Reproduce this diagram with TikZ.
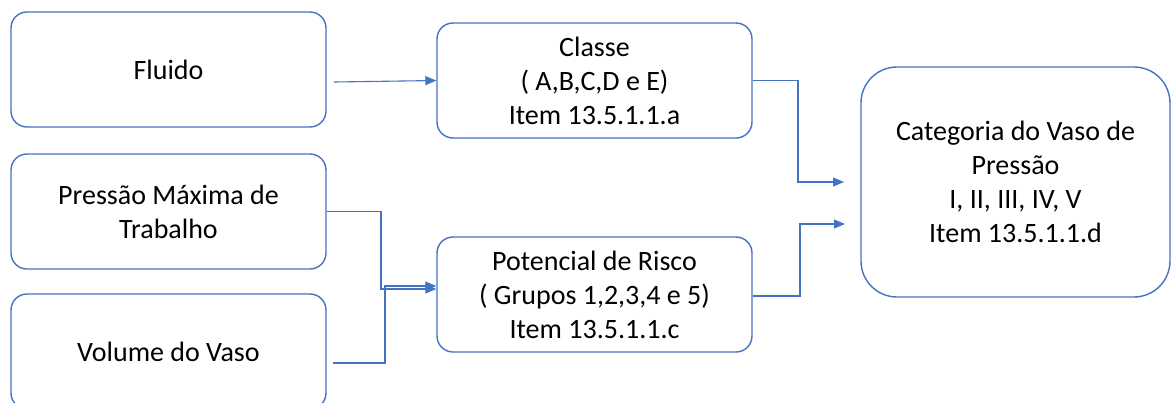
\documentclass[tikz,border=0pt]{standalone}
\usepackage{fontspec}
\setmainfont{Carlito}
\usetikzlibrary{arrows.meta}
\definecolor{lineblue}{HTML}{4472C4}
\begin{document}
\begin{tikzpicture}[x=1pt,y=-1pt,
  box/.style={draw=lineblue, line width=1.4pt, rounded corners=16pt,
    minimum width=315pt, minimum height=115pt, align=center,
    font=\fontsize{28}{34}\selectfont, text=black, inner sep=0pt},
  bigbox/.style={box, rounded corners=36pt, minimum width=309pt, minimum height=230pt},
  link/.style={draw=lineblue, line width=1.1pt},
  arr/.style={link, -{Triangle[length=11pt,width=9pt]}}]
\clip (0,0) rectangle (1171,402);
\fill[white] (0,0) rectangle (1171,402);

% input boxes on the left
\node[box] (fluido)  at (168.5,69.5)  {Fluido};
\node[box] (pressao) at (168.5,211.5) {Pressão Máxima de\\Trabalho};
\node[box] (volume)  at (168.5,351.5) {Volume do Vaso};

% intermediate classification boxes
\node[box] (classe)    at (594.5,80.5)  {Classe\\ ( A,B,C,D e E)\\Item 13.5.1.1.a};
\node[box] (potencial) at (594.5,294.5) {Potencial de Risco\\ ( Grupos 1,2,3,4 e 5)\\Item 13.5.1.1.c};

% resulting category
\node[bigbox] (categoria) at (1015.5,182) {Categoria do Vaso de\\Pressão\\I, II, III, IV, V\\Item 13.5.1.1.d};

% free ends of the connectors
\coordinate (fstart) at (334,82);
\coordinate (vstart) at (333,363);
\coordinate (ctip1) at (844,182);
\coordinate (ctip2) at (845,224);

% fluid -> class
\draw[arr] (fstart) -- (classe.west);

% pressure and volume -> risk potential
\draw[arr] (pressao.east) -- (381,211.5) -- (381,289) -- ([yshift=5.5pt]potencial.west);
\draw[arr] (vstart) -- (385,363) -- (385,286) -- ([yshift=8.5pt]potencial.west);

% class and risk potential -> category
\draw[arr] (classe.east) -- (798,80.5) -- (798,182) -- (ctip1);
\draw[arr] ([yshift=-1.5pt]potencial.east) -- (800,296) -- (800,224) -- (ctip2);
\end{tikzpicture}
\end{document}
